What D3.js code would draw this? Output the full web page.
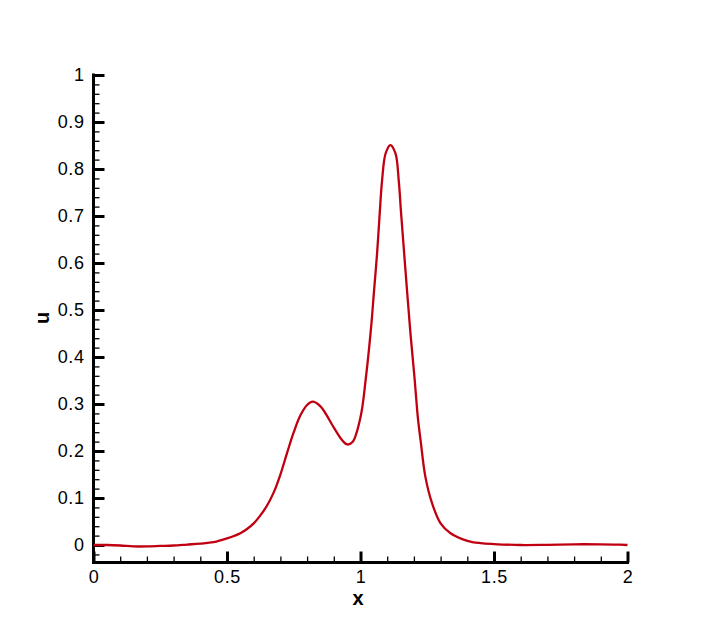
<!DOCTYPE html>
<html>
<head>
<meta charset="utf-8">
<script src="https://cdn.jsdelivr.net/npm/d3@7"></script>
<style>
html,body{margin:0;padding:0;background:#fff;}
svg{display:block;font-family:"Liberation Sans",Arial,sans-serif;}
</style>
</head>
<body>
<svg id="chart" width="713" height="634"></svg>
<script>
const xs = [0, 0.05, 0.1, 0.15, 0.2, 0.25, 0.3, 0.35, 0.4, 0.45, 0.5, 0.55, 0.575, 0.6, 0.625, 0.65, 0.675, 0.7, 0.725, 0.75, 0.775, 0.8, 0.82, 0.85, 0.9, 0.93, 0.95, 0.97, 1.0, 1.02, 1.04, 1.05, 1.062, 1.072, 1.081, 1.094, 1.112, 1.131, 1.143, 1.152, 1.165, 1.175, 1.187, 1.202, 1.215, 1.225, 1.243, 1.268, 1.3, 1.337, 1.4, 1.45, 1.5, 1.6, 1.7, 1.8, 1.9, 1.95, 2.0];
const us = [0, 0, -0.001, -0.003, -0.003, -0.002, -0.001, 0.001, 0.003, 0.006, 0.014, 0.025, 0.034, 0.046, 0.063, 0.084, 0.112, 0.150, 0.196, 0.240, 0.276, 0.298, 0.305, 0.295, 0.250, 0.224, 0.214, 0.219, 0.272, 0.355, 0.465, 0.536, 0.62, 0.706, 0.777, 0.833, 0.851, 0.833, 0.777, 0.706, 0.61, 0.536, 0.451, 0.358, 0.270, 0.223, 0.145, 0.089, 0.046, 0.025, 0.009, 0.004, 0.002, 0.0, 0.0005, 0.0015, 0.0015, 0.001, 0.0];
const xTicks = [0, 0.5, 1, 1.5, 2];
const xTickLabels = ["0", "0.5", "1", "1.5", "2"];
const yTicks = [0, 0.1, 0.2, 0.3, 0.4, 0.5, 0.6, 0.7, 0.8, 0.9, 1];
const yTickLabels = ["0", "0.1", "0.2", "0.3", "0.4", "0.5", "0.6", "0.7", "0.8", "0.9", "1"];
const xLabel = "x";
const yLabel = "u";

const svg = d3.select("#chart");
const x = d3.scaleLinear().domain([0, 2]).range([93.5, 627.5]);
const y = d3.scaleLinear().domain([-0.0372, 1]).range([562.5, 75]);

const xMinor = d3.range(0, 2.0001, 0.1).map(v => +v.toFixed(2)).filter(v => !xTicks.includes(v));
const yMinor = d3.range(-0.02, 1.0001, 0.02).map(v => +v.toFixed(2)).filter(v => !yTicks.some(t => Math.abs(t - v) < 1e-9));

const FONT = '"Liberation Sans", Arial, sans-serif';

// minor ticks
svg.append("g").attr("transform", `translate(${x(0)},0)`)
  .call(d3.axisLeft(y).tickValues(yMinor).tickSize(-6).tickFormat(""))
  .call(g => g.select(".domain").remove())
  .call(g => g.selectAll("line").attr("stroke", "#000").attr("stroke-width", 1.3));
svg.append("g").attr("transform", `translate(0,${y(-0.0372)})`)
  .call(d3.axisBottom(x).tickValues(xMinor).tickSize(-6).tickFormat(""))
  .call(g => g.select(".domain").remove())
  .call(g => g.selectAll("line").attr("stroke", "#000").attr("stroke-width", 1.3));

// major ticks + labels
const yAxis = svg.append("g").attr("transform", `translate(${x(0)},0)`)
  .call(d3.axisLeft(y).tickValues(yTicks).tickSize(-11).tickPadding(9).tickFormat((d, i) => yTickLabels[i]));
yAxis.select(".domain").remove();
yAxis.selectAll("line").attr("stroke", "#000").attr("stroke-width", 3);
yAxis.selectAll("text").attr("font-size", 18).attr("fill", "#000")
  .attr("font-family", FONT).attr("letter-spacing", 0.6);

const xAxis = svg.append("g").attr("transform", `translate(0,${y(-0.0372)})`)
  .call(d3.axisBottom(x).tickValues(xTicks).tickSize(-11).tickPadding(8).tickFormat((d, i) => xTickLabels[i]));
xAxis.select(".domain").remove();
xAxis.selectAll("line").attr("stroke", "#000").attr("stroke-width", 3);
xAxis.selectAll("text").attr("font-size", 18).attr("fill", "#000")
  .attr("font-family", FONT).attr("letter-spacing", 0.6);

// spines
svg.append("path")
  .attr("d", `M${x(0)},${y(1) - 1.5}V${y(-0.0372)}H${x(2) + 1.5}`)
  .attr("fill", "none").attr("stroke", "#000").attr("stroke-width", 3)
  .attr("stroke-linejoin", "miter");

// curve
const line = d3.line().x((d, i) => x(xs[i])).y((d, i) => y(us[i])).curve(d3.curveCatmullRom.alpha(0.5));
svg.append("path").datum(us).attr("d", line)
  .attr("fill", "none").attr("stroke", "#c00010").attr("stroke-width", 2.3)
  .attr("stroke-linejoin", "round");

// axis titles
svg.append("text").attr("x", 358).attr("y", 605).attr("text-anchor", "middle")
  .attr("font-family", FONT).attr("font-size", 20).attr("font-weight", "bold").text(xLabel);
svg.append("text").attr("transform", "translate(49,318) rotate(-90)").attr("text-anchor", "middle")
  .attr("font-family", FONT).attr("font-size", 20).attr("font-weight", "bold").text(yLabel);
</script>
</body>
</html>
